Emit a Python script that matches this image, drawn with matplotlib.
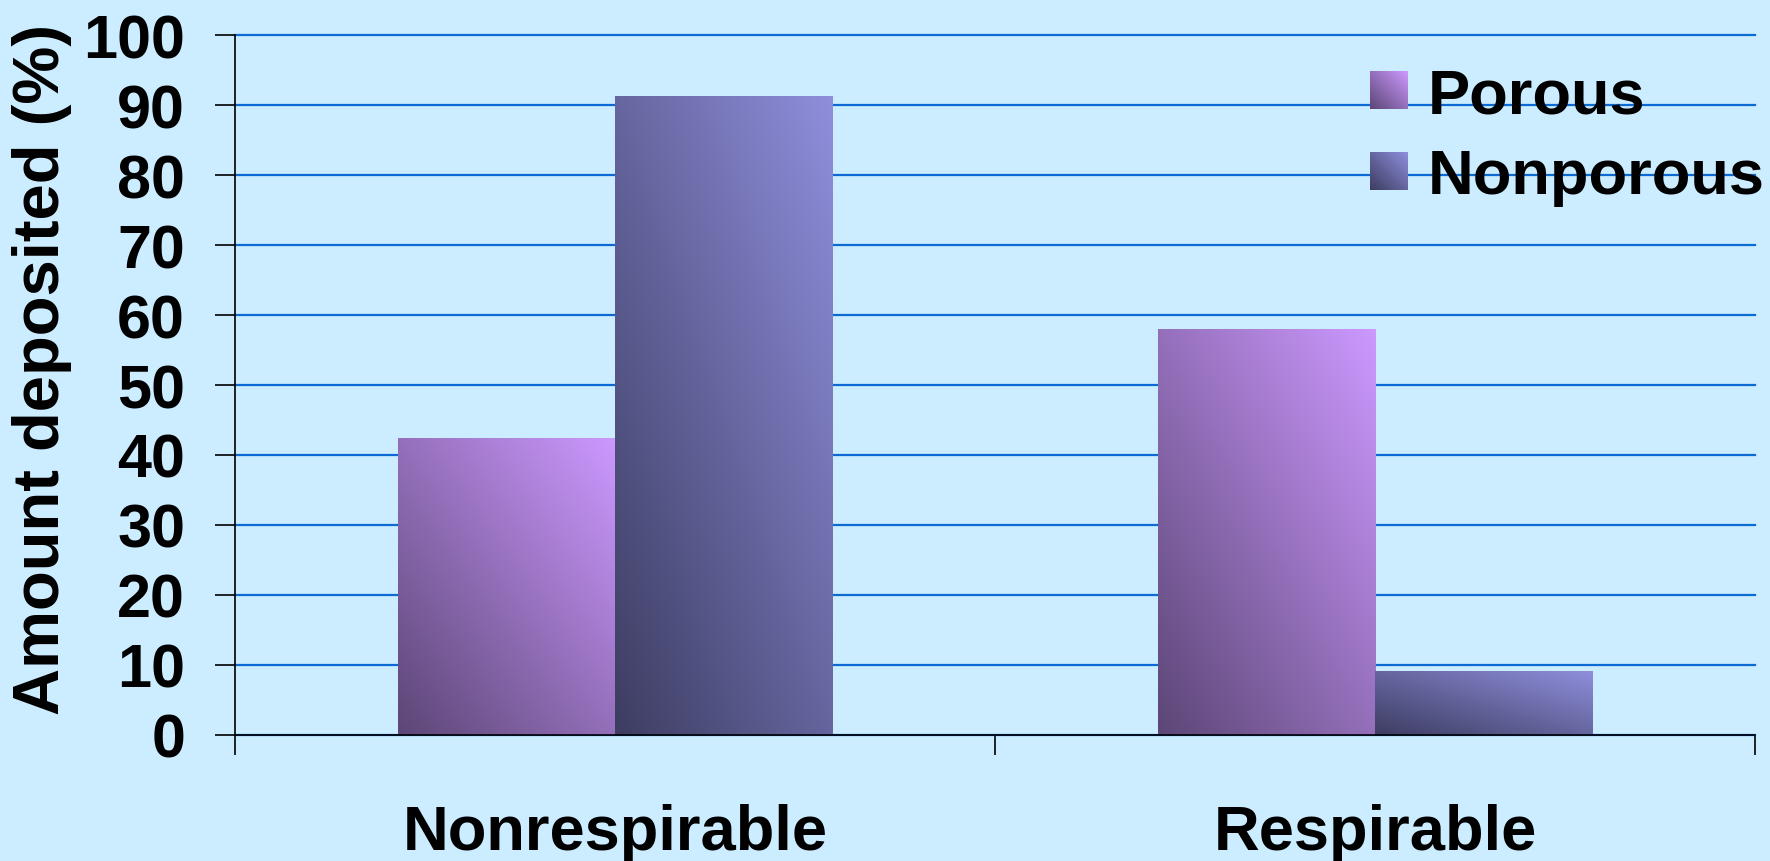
import numpy as np
import matplotlib.pyplot as plt
from matplotlib.colors import LinearSegmentedColormap
from matplotlib.image import BboxImage
from matplotlib.legend_handler import HandlerBase
from matplotlib.patches import Patch
from matplotlib.transforms import Bbox, TransformedBbox

# deposition by particle fraction
categories = ['Nonrespirable', 'Respirable']
series_names = ['Porous', 'Nonporous']
porous = [42.3, 58.0]
nonporous = [91.2, 9.1]
y_ticks = list(range(0, 101, 10))

BG = '#CCECFF'
GRID = '#0B6BD3'
FONT = ['Liberation Sans', 'DejaVu Sans']

# each bar shades from dark (bottom-left) to light (top-right)
porous_cmap = LinearSegmentedColormap.from_list('porous', ['#5C4676', '#CC99FF'])
nonporous_cmap = LinearSegmentedColormap.from_list('nonporous', ['#3D3D62', '#8E8EDC'])


def diagonal_ramp(n=256):
    u, v = np.meshgrid(np.linspace(0, 1, n), np.linspace(0, 1, n))
    return (u + v) / 2


def shade_bars(ax, bars, cmap):
    ramp = diagonal_ramp()
    for bar in bars:
        x0, y0 = bar.get_x(), bar.get_y()
        w, h = bar.get_width(), bar.get_height()
        ax.imshow(ramp, cmap=cmap, vmin=0, vmax=1, origin='lower',
                  extent=(x0, x0 + w, y0, y0 + h), aspect='auto',
                  interpolation='bilinear', zorder=2)
        bar.set_visible(False)


class GradientSquare(HandlerBase):
    """Legend key drawn as a small shaded square."""

    def __init__(self, cmap):
        super().__init__()
        self.cmap = cmap

    def create_artists(self, legend, orig_handle, xdescent, ydescent,
                       width, height, fontsize, trans):
        side = width
        y0 = -ydescent + (height - side) / 2
        box = TransformedBbox(Bbox.from_bounds(-xdescent, y0, side, side), trans)
        img = BboxImage(box, cmap=self.cmap, origin='lower',
                        interpolation='bilinear')
        img.set_data(diagonal_ramp(64))
        img.set_clim(0, 1)
        return [img]


plt.rcParams['font.family'] = FONT
plt.rcParams['font.weight'] = 'bold'

fig = plt.figure(figsize=(17.7, 8.62), dpi=100, facecolor=BG)
ax = fig.add_axes([0.1328, 0.1462, 0.8587, 0.8120])
ax.set_facecolor(BG)

x = np.arange(len(categories))
width = 0.286
bars_p = ax.bar(x - width / 2, porous, width, color='#CC99FF', zorder=2)
bars_n = ax.bar(x + width / 2, nonporous, width, color='#8E8EDC', zorder=2)
shade_bars(ax, bars_p, porous_cmap)
shade_bars(ax, bars_n, nonporous_cmap)

ax.set_xlim(-0.5, len(categories) - 0.5)
ax.set_ylim(0, 100)

# category labels centred, boundary ticks between groups
ax.set_xticks(x, categories)
ax.set_xticks(np.arange(len(categories) + 1) - 0.5, minor=True)
ax.tick_params(axis='x', which='major', length=0, pad=49, labelsize=45.5)
ax.tick_params(axis='x', which='minor', direction='out', length=14.4,
               width=1.2, color='black')
ax.set_yticks(y_ticks)
ax.tick_params(axis='y', direction='out', length=14.4, width=1.2,
               pad=21.6, labelsize=44, color='black')

ax.yaxis.grid(True, color=GRID, linewidth=1.6)
for line in ax.get_ygridlines():
    line.set_clip_on(False)
ax.set_axisbelow(True)

for side in ('top', 'right'):
    ax.spines[side].set_visible(False)
for side in ('left', 'bottom'):
    ax.spines[side].set_linewidth(1.2)
    ax.spines[side].set_color('black')
    ax.spines[side].set_zorder(3)

ax.set_ylabel('Amount deposited (%)', fontsize=47, fontweight='bold')
ax.yaxis.set_label_coords(-0.107, 0.524)

handles = [Patch(label=series_names[0]), Patch(label=series_names[1])]
fig.legend(handles=handles, loc='upper left', bbox_to_anchor=(0.774, 0.922),
           frameon=False, fontsize=45.5, borderpad=0, borderaxespad=0,
           handlelength=0.6, handleheight=0.7, handletextpad=0.32,
           labelspacing=0.35,
           handler_map={handles[0]: GradientSquare(porous_cmap),
                        handles[1]: GradientSquare(nonporous_cmap)})

fig.savefig('out.png', dpi=100, facecolor=BG)
